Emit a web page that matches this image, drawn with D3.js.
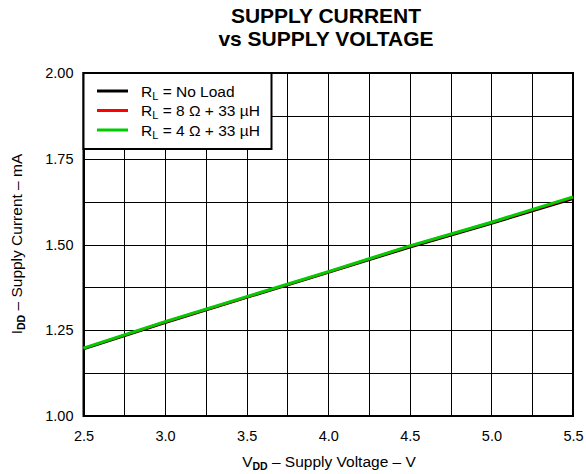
<!DOCTYPE html>
<html><head><meta charset="utf-8">
<script src="https://cdn.jsdelivr.net/npm/d3@7"></script>
<style>body{margin:0;background:#fff}svg{display:block}text{font-family:"Liberation Sans",Arial,sans-serif}</style>
</head><body><svg id="c" width="586" height="474"></svg>
<script>
const voltage = [2.5, 3.0, 3.5, 4.0, 4.5, 5.0, 5.5];
const noLoad = [1.195, 1.272, 1.345, 1.418, 1.492, 1.561, 1.633];
const load8 = [1.197, 1.274, 1.347, 1.420, 1.495, 1.564, 1.637];
const load4 = [1.198, 1.275, 1.348, 1.421, 1.496, 1.565, 1.639];
const xTicks = [2.5, 3.0, 3.5, 4.0, 4.5, 5.0, 5.5];
const yTicks = [1.00, 1.25, 1.50, 1.75, 2.00];
const seriesNames = ["No Load", "8 Ω + 33 µH", "4 Ω + 33 µH"];
const seriesColors = ["#000000", "#ff0000", "#00cc00"];

const svg = d3.select("#c");
const L = 83.5, R = 573, T = 73, B = 416;
const x = d3.scaleLinear().domain([2.5, 5.5]).range([L, R]);
const y = d3.scaleLinear().domain([1.0, 2.0]).range([B, T]);
const FF = '"Liberation Sans",Arial,sans-serif';

// grid
const g = svg.append("g");
g.selectAll("line.v").data(d3.range(2.5, 5.5001, 0.25)).join("line")
  .attr("x1", d => Math.round(x(d)) + 0.5).attr("x2", d => Math.round(x(d)) + 0.5)
  .attr("y1", T).attr("y2", B).attr("stroke", "#000").attr("stroke-width", 1);
g.selectAll("line.h").data(d3.range(1.0, 2.0001, 0.125)).join("line")
  .attr("y1", d => Math.round(y(d)) + 0.5).attr("y2", d => Math.round(y(d)) + 0.5)
  .attr("x1", L).attr("x2", R).attr("stroke", "#000").attr("stroke-width", 1);

// axes
const xa = svg.append("g").attr("transform", `translate(0,${B})`)
  .call(d3.axisBottom(x).tickValues(xTicks).tickFormat(d3.format(".1f")).tickSize(0).tickPadding(15));
const ya = svg.append("g").attr("transform", `translate(${L},0)`)
  .call(d3.axisLeft(y).tickValues(yTicks).tickFormat(d3.format(".2f")).tickSize(0).tickPadding(10));
[xa, ya].forEach(a => { a.select(".domain").remove(); a.selectAll("text").attr("font-size", 14.5).attr("fill", "#000").style("font-family", FF); });

// frame
svg.append("rect").attr("x", L).attr("y", T).attr("width", R - L).attr("height", B - T)
  .attr("fill", "none").attr("stroke", "#000").attr("stroke-width", 2);

// lines
const data = [noLoad, load8, load4];
const line = d3.line().x((d, i) => x(voltage[i])).y(d => y(d));
data.forEach((s, k) => {
  svg.append("path").datum(s).attr("d", line).attr("fill", "none")
    .attr("stroke", seriesColors[k]).attr("stroke-width", k === 2 ? 3 : 2.5);
});

// legend
const lg = svg.append("g");
lg.append("rect").attr("x", L).attr("y", T).attr("width", 188).attr("height", 76)
  .attr("fill", "#fff").attr("stroke", "#000").attr("stroke-width", 2);
seriesNames.forEach((n, i) => {
  const yy = 91 + i * 19.5;
  lg.append("line").attr("x1", 97).attr("x2", 128).attr("y1", yy).attr("y2", yy)
    .attr("stroke", seriesColors[i]).attr("stroke-width", 3);
  const t = lg.append("text").attr("x", 141).attr("y", yy + 5.5).attr("font-size", 15.5);
  t.append("tspan").text("R");
  t.append("tspan").text("L").attr("font-size", 11).attr("dy", 3);
  t.append("tspan").text(" = " + n).attr("dy", -3);
});

// titles
svg.append("text").attr("x", 326).attr("y", 22.5).attr("text-anchor", "middle")
  .attr("font-size", 21).attr("font-weight", "bold").text("SUPPLY CURRENT");
svg.append("text").attr("x", 326).attr("y", 46).attr("text-anchor", "middle")
  .attr("font-size", 21).attr("font-weight", "bold").text("vs SUPPLY VOLTAGE");

const xt = svg.append("text").attr("x", 329).attr("y", 467).attr("text-anchor", "middle").attr("font-size", 15.5);
xt.append("tspan").text("V");
xt.append("tspan").text("DD").attr("font-size", 10.5).attr("font-weight", "bold").attr("dy", 3);
xt.append("tspan").text(" – Supply Voltage – V").attr("dy", -3);

const yt = svg.append("text").attr("transform", "translate(22,244) rotate(-90)").attr("text-anchor", "middle").attr("font-size", 15.5);
yt.append("tspan").text("I");
yt.append("tspan").text("DD").attr("font-size", 10.5).attr("font-weight", "bold").attr("dy", 3);
yt.append("tspan").text(" – Supply Current – mA").attr("dy", -3);
</script></body></html>
